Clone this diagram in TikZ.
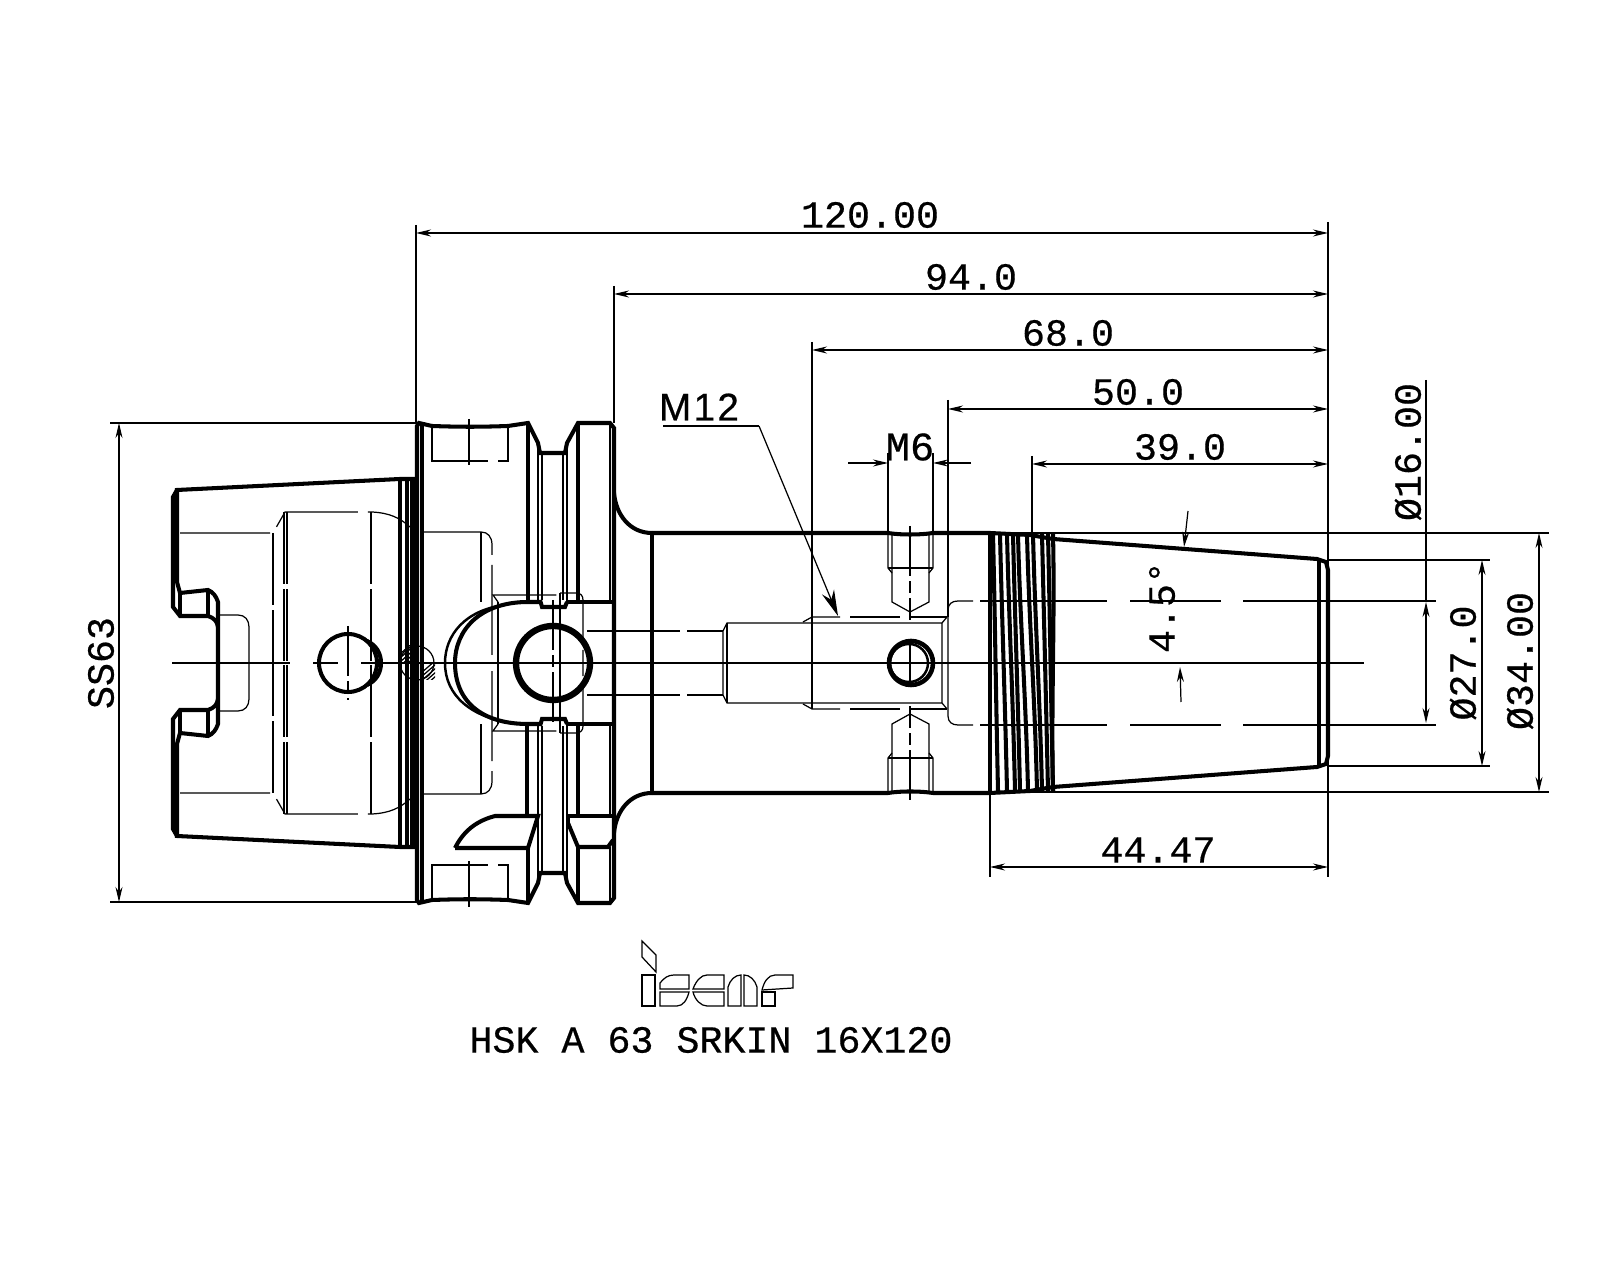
\documentclass[tikz,border=0pt]{standalone}
\usepackage{fontspec}
\setmainfont[FakeBold=0.5]{Liberation Mono}
\newfontfamily\leadfont[LetterSpace=6,FakeBold=0.5]{Liberation Sans}
\usetikzlibrary{arrows.meta}

\tikzset{
  thin line/.style={line width=0.35pt},
  medium/.style={line width=0.7pt},
  heavy/.style={line width=1.15pt},
  hidden/.style={line width=0.35pt, dash pattern=on 0.9cm off 0.1cm},
  hiddenv/.style={line width=0.35pt, dash pattern=on 0.72cm off 0.05cm},
  centerl/.style={line width=0.35pt, dash pattern=on 0.5cm off 0.05cm on 0.12cm off 0.05cm},
  extline/.style={line width=0.35pt},
  dimline/.style={line width=0.35pt, {Stealth[length=1.5mm,width=0.7mm]}-{Stealth[length=1.5mm,width=0.7mm]}},
  dimhalf/.style={line width=0.35pt, -{Stealth[length=1.5mm,width=0.7mm]}},
  dimtext/.style={font=\fontsize{10.9}{12}\selectfont, inner sep=0pt},
}

\begin{document}
\begin{tikzpicture}[x=0.01cm, y=-0.01cm]
\useasboundingbox (0,0) rectangle (1600,1280);
\fill [white] (0,0) rectangle (1600,1280);

% parts that are the same on both sides of the axis
\foreach \s in {1,-1} {
\begin{scope}[shift={(0,{663*(1-\s)})}, yscale=\s]
% rear taper
\draw [heavy] (218,663) -- (218,602) .. controls (216,596) and (213,592) .. (208,590) -- (180,593) -- (177,582) -- (177,490) -- (400,479) -- (415,479);
\draw [heavy] (218,627) .. controls (217,621) and (214,618) .. (208,616) -- (180,616) -- (173,607) -- (173,497) -- (177,490);
\draw [heavy] (180,593) -- (180,616);
\draw [heavy] (208,590) -- (208,616);
\draw [heavy] (400,479) -- (400,663);
\draw [heavy] (407,479) -- (407,663);
\draw [line width=1.6pt] (413,479) -- (413,663);
% hidden bore of the taper
\draw [hidden] (180,533) -- (273,533) -- (285,512) -- (372,512) .. controls (390,513) and (400,518) .. (410,527);
\draw [thin line] (218,615) -- (238,615) .. controls (245,615) and (249,620) .. (249,627) -- (249,663);
\draw [hiddenv] (273,533) -- (273,663);
\draw [hiddenv] (284,512) -- (284,663);
\draw [hiddenv] (287,512) -- (287,663);
\draw [hiddenv] (371,512) -- (371,663);
\draw [hidden] (420,532) -- (481,532) .. controls (488,532) and (492,537) .. (492,545) -- (492,663);
\draw [hiddenv] (481,532) -- (481,602);
% flange
\draw [heavy] (417,663) -- (417,426) -- (419,423) -- (432,426) .. controls (460,427) and (480,427) .. (508,426) -- (528,423) -- (538,443) -- (540,453) -- (565,453) -- (567,443) -- (578,423) -- (610,423) -- (614,428) -- (614,663);
\draw [heavy] (422,423) -- (422,663);
\draw [hidden] (432,427) rectangle (508,461);
\draw [centerl] (469,419) -- (469,465);
\draw [medium] (542,453) -- (542,600);
\draw [medium] (563,453) -- (563,600);
\draw [heavy] (540,600) -- (542,607) -- (565,607) -- (567,602);
% fillet to the shank
\draw [heavy] (614,493) .. controls (616,515) and (630,533) .. (652,533);
% hidden parts round the large hole
\draw [hiddenv] (498,602) -- (493,595) -- (560,595);
\draw [hiddenv] (560,593) -- (576,593) .. controls (581,593) and (583,596) .. (583,600) -- (583,663);
\draw [hiddenv] (498,602) -- (498,663);
\draw [hiddenv] (560,593) -- (560,663);
% M6 cross holes
\draw [thin line] (892,533) -- (892,602) -- (910,612) -- (929,602) -- (929,533);
\draw [hiddenv] (888,533) -- (888,568) -- (892,573);
\draw [hiddenv] (933,533) -- (933,568) -- (929,573);
\draw [hiddenv] (888,568) -- (933,568);
\draw [centerl] (910,526) -- (910,620);
% M12 bore
\draw [thin line] (723,663) -- (723,631) -- (727,623) -- (942,623) -- (942,663);
\draw [thin line] (727,623) -- (727,663);
\draw [thin line] (587,631) -- (680,631);
\draw [thin line] (687,631) -- (723,631);
\draw [thin line] (803,622) -- (812,617) -- (840,617);
\draw [thin line] (850,617) -- (900,617);
\draw [thin line] (910,617) -- (947,617);
\draw [thin line] (942,623) -- (947,617);
\draw [hiddenv] (812,617) -- (812,663);
\draw [thin line] (948,663) -- (948,610) .. controls (948,604) and (952,601) .. (958,601) -- (973,601);
\draw [thin line] (980,601) -- (1107,601);
\draw [thin line] (1130,601) -- (1221,601);
\draw [thin line] (1243,601) -- (1436,601);
% taper end
\draw [heavy] (1053,539) -- (1317,559) -- (1326,562) -- (1328,570) -- (1328,663);
\draw [heavy] (1319,560) -- (1319,663);
\draw [heavy] (652,533) -- (888,533) .. controls (900,535) and (920,535) .. (933,533) -- (990,533) -- (1030,535) -- (1053,539);
\draw [heavy] (990,533) -- (990,663);
\draw [heavy] (652,533) -- (652,663);
\end{scope}
}

% thread
\foreach \a/\b in {993/998, 1000/1007, 1007/1015, 1013/1020, 1018/1028, 1027/1037, 1033/1042, 1042/1048, 1048/1053, 1053/1053}
  \draw [heavy] (\a,534) .. controls ({\a+2},620) and ({\b-2},700) .. (\b,791);

% top of the flange and its lugs
\draw [heavy] (528,423) -- (528,602);
\draw [medium] (538,443) -- (538,602);
\draw [medium] (567,443) -- (567,602);
\draw [heavy] (578,423) -- (578,602);
\draw [medium] (610,423) -- (610,602);
\draw [heavy] (567,602) -- (614,602);
% lower lugs
\draw [heavy] (527,724) -- (527,816);
\draw [medium] (538,724) -- (538,816);
\draw [heavy] (528,848) -- (528,903);
\draw [medium] (538,816) -- (538,882);
\draw [medium] (567,724) -- (567,816);
\draw [medium] (567,823) -- (567,882);
\draw [heavy] (578,724) -- (578,816);
\draw [heavy] (578,847) -- (578,903);
\draw [medium] (610,724) -- (610,816);
\draw [medium] (610,847) -- (610,903);
\draw [heavy] (567,724) -- (614,724);
\draw [heavy] (455,848) -- (528,848) -- (538,816) -- (495,816) .. controls (480,820) and (465,828) .. (455,848);
\draw [heavy] (568,816) -- (613,816);
\draw [heavy] (568,823) -- (578,847) -- (608,847) -- (613,840);
\draw [heavy] (568,816) -- (568,823);

% slot round the large hole
\draw [heavy] (540,602) -- (528,602) .. controls (480,602) and (455,630) .. (455,663) .. controls (455,700) and (480,724) .. (528,724) -- (540,724);
\draw [medium] (505,605) .. controls (465,610) and (445,635) .. (445,663) .. controls (445,695) and (470,718) .. (517,724);

% holes
\draw [heavy] (348,663) circle (29);
\draw [heavy] (367,641) .. controls (376,645) and (381,653) .. (381,663) .. controls (381,673) and (376,681) .. (367,685);
\draw [line width=1.8pt] (553,663) circle (37);
\draw [line width=1.3pt] (911,663) circle (22);
\draw [medium] (909,663) circle (19);
\draw [centerl] (348,626) -- (348,700);
\draw [centerl] (553,600) -- (553,725);
\draw [centerl] (910,640) -- (910,686);

% small plug on the joint
\draw [thin line] (417,663) circle (17);
\begin{scope}
\clip (401,646) rectangle (414,663);
\foreach \h in {640,644,...,672}
  \draw [thin line] (400,\h+14) -- (416,\h);
\end{scope}
\begin{scope}
\clip (421,663) rectangle (435,680);
\foreach \h in {660,664,...,692}
  \draw [thin line] (420,\h+14) -- (436,\h);
\end{scope}

% axis
\coordinate (axisa) at (172,663);
\coordinate (axisb) at (290,663);
\coordinate (axisc) at (313,663);
\coordinate (axisd) at (338,663);
\coordinate (axise) at (361,663);
\coordinate (axisf) at (1364,663);
\path [thin line] (axisa) edge (axisb);
\path [thin line] (axisc) edge (axisd);
\path [thin line] (axise) edge (axisf);

% extension lines
\path [extline] (110,423) edge (417,423);
\path [extline] (110,902) edge (417,902);
\path [extline] (416,225) edge (416,423);
\path [extline] (614,286) edge (614,423);
\path [extline] (812,342) edge (812,617);
\path [extline] (948,400) edge (948,617);
\path [extline] (1032,456) edge (1032,536);
\path [extline] (888,453) edge (888,533);
\path [extline] (933,453) edge (933,533);
\path [extline] (1328,222) edge (1328,877);
\path [extline] (990,792) edge (990,877);
\path [extline] (990,533) edge (1549,533);
\path [extline] (990,792) edge (1549,792);
\path [extline] (1328,560) edge (1490,560);
\path [extline] (1328,766) edge (1490,766);

% dimensions
\coordinate (d120a) at (416,233);
\coordinate (d120b) at (1328,233);
\coordinate (d94a) at (614,294);
\coordinate (d94b) at (1328,294);
\coordinate (d68a) at (812,350);
\coordinate (d68b) at (1328,350);
\coordinate (d50a) at (948,409);
\coordinate (d50b) at (1328,409);
\coordinate (d39a) at (1032,464);
\coordinate (d39b) at (1328,464);
\coordinate (d44a) at (990,867);
\coordinate (d44b) at (1328,867);
\coordinate (dssa) at (119,423);
\coordinate (dssb) at (119,902);
\coordinate (d27a) at (1482,560);
\coordinate (d27b) at (1482,766);
\coordinate (d34a) at (1539,533);
\coordinate (d34b) at (1539,792);
\coordinate (d16a) at (1426,602);
\coordinate (d16b) at (1426,723);
\coordinate (d16c) at (1426,380);
\coordinate (m6a) at (848,463);
\coordinate (m6b) at (888,463);
\coordinate (m6c) at (971,463);
\coordinate (m6d) at (933,463);
\coordinate (anga) at (1188,511);
\coordinate (angb) at (1184,547);
\coordinate (angc) at (1181,702);
\coordinate (angd) at (1180,667);
\coordinate (leada) at (663,426);
\coordinate (leadb) at (759,426);
\coordinate (leadc) at (838,616);

\path [dimline] (d120a) edge (d120b);
\path [dimline] (d94a) edge (d94b);
\path [dimline] (d68a) edge (d68b);
\path [dimline] (d50a) edge (d50b);
\path [dimline] (d39a) edge (d39b);
\path [dimline] (d44a) edge (d44b);
\path [dimline] (dssa) edge (dssb);
\path [dimline] (d27a) edge (d27b);
\path [dimline] (d34a) edge (d34b);
\path [dimline] (d16a) edge (d16b);
\path [extline] (d16c) edge (d16a);
\path [dimhalf] (m6a) edge (m6b);
\path [dimhalf] (m6c) edge (m6d);
\path [dimhalf] (anga) edge (angb);
\path [dimhalf] (angc) edge (angd);
\draw [thin line] (leada) -- (leadb);
\draw [line width=0.35pt, -{Stealth[length=2.6mm,width=1.3mm]}] (leadb) -- (leadc);

% labels
\node (t120) at (870,215) [dimtext] {120.00};
\node (t94) at (971,277) [dimtext] {94.0};
\node (t68) at (1068,333) [dimtext] {68.0};
\node (t50) at (1138,392) [dimtext] {50.0};
\node (t39) at (1180,447) [dimtext] {39.0};
\node (t44) at (1158,850) [dimtext] {44.47};
\node (tss) at (101,663) [dimtext, rotate=90] {SS63};
\node (t16) at (1408,452) [dimtext, rotate=90] {Ø16.00};
\node (t27) at (1463,663) [dimtext, rotate=90] {Ø27.0};
\node (t34) at (1520,661) [dimtext, rotate=90] {Ø34.00};
\node (tang) at (1162,607) [dimtext, rotate=90] {4.5°};
\node (tm12) at (699,407) [inner sep=0pt, font=\leadfont\fontsize{11}{12}\selectfont] {M12};
\node (tm6) at (910,447) [inner sep=0pt, font=\fontsize{11.5}{12}\selectfont] {M6};
\node (tname) at (711,1040) [dimtext] {HSK A 63 SRKIN 16X120};

% logo
\draw [thin line] (642,941) -- (656,955) -- (656,972) -- (642,957) -- cycle;
\draw [thin line] (642,975) rectangle (655,1006);
\draw [thin line] (660,989) -- (660,983) .. controls (664,978) and (668,975) .. (674,975) -- (689,975) -- (689,989) -- cycle;
\draw [thin line] (660,992) -- (689,992) .. controls (687,1000) and (683,1006) .. (677,1006) -- (660,1006) -- cycle;
\draw [thin line] (693,989) .. controls (696,981) and (701,975) .. (707,975) -- (724,975) -- (724,989) -- cycle;
\draw [thin line] (693,992) -- (724,992) -- (724,1006) -- (707,1006) .. controls (701,1006) and (695,1000) .. (693,992) -- cycle;
\draw [thin line] (728,1006) -- (728,987) .. controls (730,980) and (735,975) .. (741,975) -- (741,1006) -- cycle;
\draw [thin line] (744,975) .. controls (750,975) and (755,980) .. (757,987) -- (757,1006) -- (744,1006) -- cycle;
\draw [thin line] (762,990) .. controls (764,982) and (768,975) .. (775,975) -- (793,975) -- (793,988) -- cycle;
\draw [thin line] (762,992) -- (775,992) -- (775,1006) -- (762,1006) -- cycle;
\end{tikzpicture}
\end{document}
